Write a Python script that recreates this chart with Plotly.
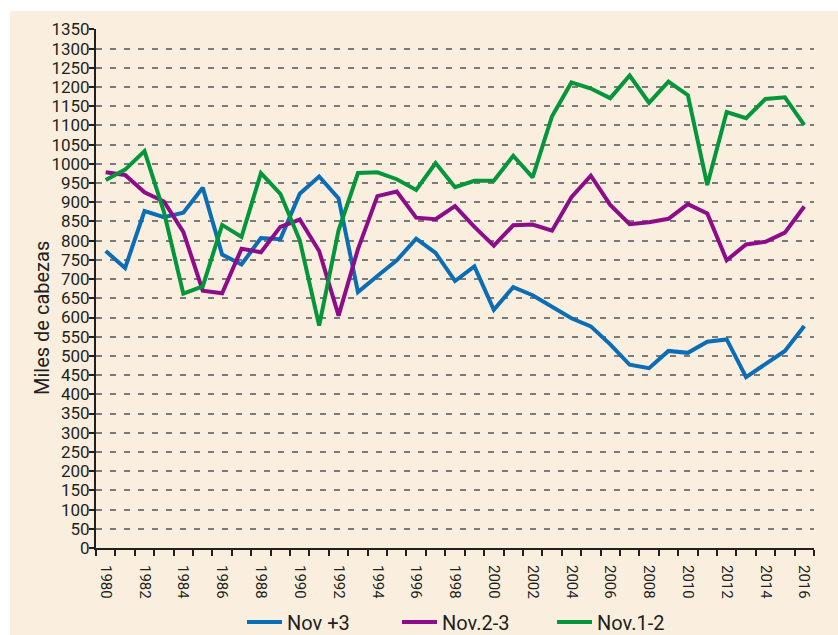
import plotly.graph_objects as go

years = list(range(1980, 2017))

nov_3 = [773, 729, 877, 861, 873, 938, 764, 738, 807, 804, 922, 967, 910, 666, 708,
         749, 805, 768, 695, 733, 620, 679, 658, 629, 598, 577, 530, 477, 468, 513,
         508, 537, 543, 445, 478, 513, 578]
nov_2_3 = [978, 971, 926, 902, 823, 670, 663, 779, 770, 836, 855, 773, 605, 778, 916,
           928, 860, 856, 890, 836, 787, 840, 842, 826, 913, 969, 893, 843, 848, 857,
           895, 871, 749, 790, 797, 821, 889]
nov_1_2 = [958, 985, 1033, 875, 662, 681, 841, 810, 976, 922, 801, 579, 827, 976, 978,
           960, 932, 1002, 939, 956, 956, 1021, 965, 1124, 1212, 1196, 1171, 1230, 1159,
           1214, 1179, 945, 1135, 1119, 1169, 1173, 1101]

series_names = ["Nov +3", "Nov.2-3", "Nov.1-2"]
x_tick_years = list(range(1980, 2017, 2))
y_ticks = list(range(0, 1351, 50))

colors = ["#0A6DB6", "#8C0C8A", "#03963B"]
BEIGE = "#FAEFDE"
FONT = "Roboto, Liberation Sans, sans-serif"
INK = "#231F20"

fig = go.Figure()
for name, vals, col in zip(series_names, [nov_3, nov_2_3, nov_1_2], colors):
    fig.add_trace(go.Scatter(x=years, y=vals, mode="lines", name=name,
                             line=dict(color=col, width=4)))

W, H = 838, 635
ml, mr, mt, mb = 96, 24, 29, 87
pw, ph = W - ml - mr, H - mt - mb

def px_x(p):
    return (p - ml) / pw

def px_y(p):
    return (H - mb - p) / ph

fig.add_shape(type="rect", xref="paper", yref="paper",
              x0=px_x(10), x1=px_x(W + 2), y0=px_y(H + 2), y1=px_y(11),
              fillcolor=BEIGE, line=dict(width=0), layer="below")

fig.add_annotation(text="Miles de cabezas", textangle=-90, showarrow=False,
                   xref="paper", yref="paper", x=px_x(42), y=px_y(318),
                   xanchor="center", yanchor="middle",
                   font=dict(family=FONT, size=20, color=INK))

fig.update_layout(
    width=W, height=H,
    margin=dict(l=ml, r=mr, t=mt, b=mb, pad=0, autoexpand=False),
    paper_bgcolor="white",
    plot_bgcolor=BEIGE,
    font=dict(family=FONT, color=INK),
    showlegend=True,
    legend=dict(orientation="h", x=px_x(242), xanchor="left", y=px_y(622), yanchor="middle",
                bgcolor="rgba(0,0,0,0)", font=dict(family=FONT, size=20, color=INK),
                entrywidth=105, entrywidthmode="pixels", itemwidth=35,
                tracegroupgap=0),
    xaxis=dict(
        range=[1979.5, 2016.5],
        tickmode="array", tickvals=x_tick_years, ticktext=[str(y) for y in x_tick_years],
        tickangle=90, ticks="outside", ticklen=12, tickcolor="rgba(0,0,0,0)",
        tickfont=dict(family=FONT, size=15, color=INK),
        showline=True, linecolor=INK, linewidth=2,
        showgrid=False, zeroline=False,
        minor=dict(tickmode="linear", tick0=1979.5, dtick=1, ticks="outside",
                   ticklen=6, tickwidth=1.5, tickcolor=INK, showgrid=False),
    ),
    yaxis=dict(
        range=[0, 1351],
        tickmode="array", tickvals=y_ticks, ticktext=[str(v) for v in y_ticks],
        ticks="outside", ticklen=5, tickwidth=1.5, tickcolor=INK,
        ticklabelstandoff=-4,
        tickfont=dict(family=FONT, size=17, color=INK),
        showline=True, linecolor=INK, linewidth=2,
        showgrid=True, gridcolor="#7B7B7B", gridwidth=2, griddash="6px,8px",
        zeroline=False,
    ),
)

fig.write_html("out.html", config={"displayModeBar": False},
               post_script="document.body.style.margin='0';document.body.style.padding='0';")
